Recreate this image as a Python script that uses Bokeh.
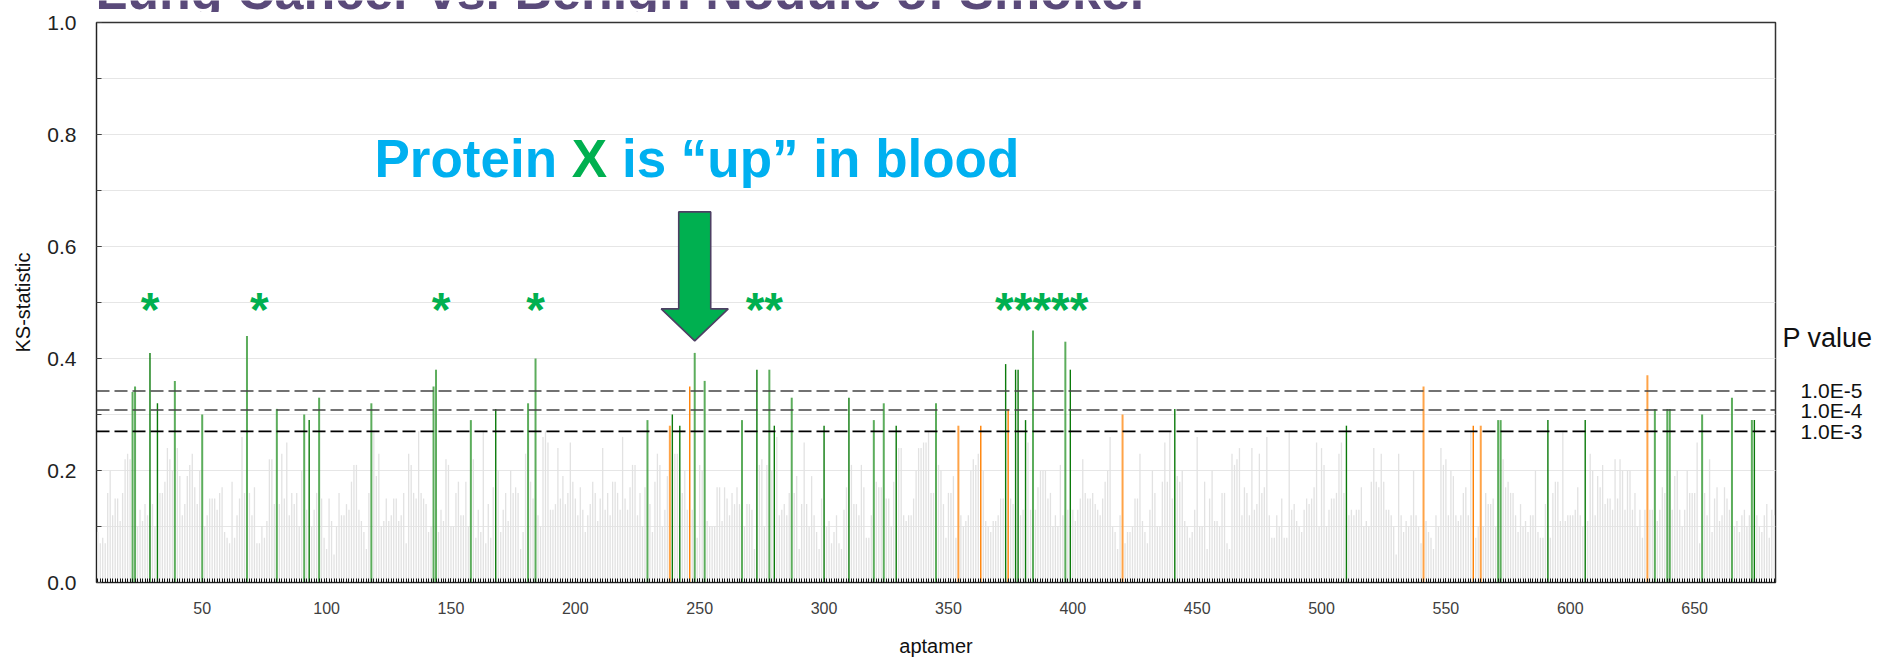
from bokeh.plotting import figure
from bokeh.layouts import column, row
from bokeh.models import Range1d, SingleIntervalTicker, PrintfTickFormatter, Span, Label
from bokeh.embed import file_html
from bokeh.resources import INLINE
from bokeh.core.properties import value

# ---------------- data ----------------
first_aptamer = 8
ks = [
    0.09, 0.07, 0.08, 0.07, 0.16, 0.20, 0.12, 0.15, 0.15, 0.11,
    0.16, 0.22, 0.23, 0.22, 0.34, 0.35, 0.10, 0.13, 0.11, 0.14,
    0.12, 0.41, 0.14, 0.10, 0.32, 0.16, 0.16, 0.18, 0.24, 0.22,
    0.20, 0.36, 0.24, 0.19, 0.12, 0.14, 0.19, 0.21, 0.23, 0.17,
    0.14, 0.20, 0.30, 0.10, 0.12, 0.15, 0.15, 0.15, 0.13, 0.16,
    0.17, 0.09, 0.08, 0.07, 0.18, 0.08, 0.12, 0.15, 0.26, 0.16,
    0.44, 0.16, 0.12, 0.17, 0.07, 0.07, 0.10, 0.08, 0.11, 0.22,
    0.22, 0.14, 0.31, 0.14, 0.23, 0.15, 0.25, 0.12, 0.16, 0.14,
    0.16, 0.10, 0.20, 0.30, 0.13, 0.29, 0.10, 0.13, 0.16, 0.33,
    0.15, 0.08, 0.06, 0.15, 0.11, 0.05, 0.10, 0.16, 0.12, 0.12,
    0.14, 0.13, 0.18, 0.21, 0.21, 0.13, 0.11, 0.09, 0.06, 0.16,
    0.32, 0.27, 0.19, 0.23, 0.10, 0.11, 0.15, 0.11, 0.12, 0.15,
    0.15, 0.11, 0.12, 0.16, 0.07, 0.23, 0.21, 0.16, 0.15, 0.27,
    0.16, 0.15, 0.14, 0.09, 0.10, 0.35, 0.38, 0.09, 0.13, 0.11,
    0.22, 0.21, 0.10, 0.10, 0.16, 0.18, 0.12, 0.12, 0.18, 0.10,
    0.29, 0.22, 0.08, 0.13, 0.09, 0.27, 0.07, 0.14, 0.08, 0.17,
    0.31, 0.20, 0.09, 0.13, 0.16, 0.11, 0.20, 0.16, 0.17, 0.16,
    0.06, 0.09, 0.23, 0.32, 0.18, 0.15, 0.40, 0.12, 0.10, 0.26,
    0.27, 0.25, 0.13, 0.13, 0.14, 0.24, 0.15, 0.19, 0.14, 0.16,
    0.25, 0.18, 0.15, 0.12, 0.17, 0.13, 0.09, 0.12, 0.14, 0.18,
    0.16, 0.11, 0.15, 0.24, 0.13, 0.16, 0.12, 0.18, 0.18, 0.16,
    0.13, 0.26, 0.15, 0.13, 0.17, 0.21, 0.21, 0.12, 0.16, 0.10,
    0.17, 0.29, 0.14, 0.09, 0.18, 0.23, 0.21, 0.10, 0.13, 0.19,
    0.28, 0.30, 0.23, 0.23, 0.28, 0.16, 0.20, 0.13, 0.35, 0.13,
    0.41, 0.08, 0.21, 0.20, 0.36, 0.11, 0.10, 0.10, 0.10, 0.17,
    0.17, 0.11, 0.17, 0.15, 0.12, 0.16, 0.14, 0.17, 0.14, 0.29,
    0.10, 0.14, 0.14, 0.13, 0.06, 0.38, 0.21, 0.22, 0.10, 0.21,
    0.38, 0.20, 0.28, 0.26, 0.12, 0.13, 0.14, 0.12, 0.16, 0.33,
    0.16, 0.19, 0.06, 0.14, 0.25, 0.14, 0.10, 0.19, 0.12, 0.09,
    0.06, 0.15, 0.28, 0.10, 0.11, 0.07, 0.09, 0.12, 0.07, 0.06,
    0.13, 0.17, 0.33, 0.21, 0.14, 0.14, 0.12, 0.21, 0.17, 0.08,
    0.08, 0.12, 0.29, 0.18, 0.17, 0.17, 0.32, 0.15, 0.15, 0.10,
    0.18, 0.28, 0.24, 0.24, 0.12, 0.11, 0.12, 0.12, 0.15, 0.20,
    0.24, 0.24, 0.25, 0.25, 0.27, 0.16, 0.16, 0.32, 0.21, 0.20,
    0.14, 0.08, 0.16, 0.16, 0.19, 0.08, 0.28, 0.12, 0.10, 0.11,
    0.12, 0.20, 0.22, 0.21, 0.23, 0.28, 0.20, 0.11, 0.10, 0.09,
    0.11, 0.11, 0.12, 0.15, 0.15, 0.39, 0.31, 0.15, 0.14, 0.38,
    0.38, 0.12, 0.13, 0.29, 0.25, 0.13, 0.45, 0.13, 0.17, 0.20,
    0.20, 0.20, 0.15, 0.16, 0.10, 0.12, 0.10, 0.21, 0.12, 0.43,
    0.13, 0.38, 0.13, 0.11, 0.13, 0.15, 0.22, 0.16, 0.15, 0.15,
    0.16, 0.14, 0.13, 0.12, 0.15, 0.18, 0.20, 0.26, 0.10, 0.09,
    0.06, 0.12, 0.30, 0.07, 0.09, 0.09, 0.10, 0.15, 0.15, 0.23,
    0.11, 0.09, 0.07, 0.13, 0.20, 0.16, 0.10, 0.10, 0.18, 0.25,
    0.18, 0.27, 0.15, 0.31, 0.19, 0.18, 0.20, 0.11, 0.10, 0.08,
    0.09, 0.13, 0.26, 0.10, 0.10, 0.18, 0.06, 0.15, 0.20, 0.11,
    0.11, 0.10, 0.16, 0.16, 0.07, 0.06, 0.23, 0.21, 0.22, 0.24,
    0.12, 0.17, 0.16, 0.12, 0.24, 0.13, 0.14, 0.23, 0.16, 0.17,
    0.26, 0.12, 0.08, 0.08, 0.12, 0.10, 0.15, 0.08, 0.08, 0.27,
    0.13, 0.14, 0.11, 0.10, 0.09, 0.13, 0.15, 0.14, 0.15, 0.17,
    0.25, 0.10, 0.24, 0.21, 0.10, 0.13, 0.15, 0.15, 0.16, 0.23,
    0.25, 0.16, 0.28, 0.12, 0.13, 0.12, 0.13, 0.13, 0.17, 0.10,
    0.11, 0.10, 0.18, 0.24, 0.18, 0.17, 0.23, 0.18, 0.13, 0.13,
    0.12, 0.10, 0.05, 0.23, 0.12, 0.09, 0.11, 0.10, 0.12, 0.20,
    0.12, 0.10, 0.07, 0.35, 0.11, 0.09, 0.08, 0.06, 0.12, 0.10,
    0.24, 0.21, 0.22, 0.12, 0.20, 0.19, 0.12, 0.11, 0.12, 0.16,
    0.17, 0.12, 0.27, 0.28, 0.08, 0.10, 0.28, 0.10, 0.16, 0.14,
    0.14, 0.15, 0.10, 0.29, 0.29, 0.22, 0.17, 0.18, 0.16, 0.16,
    0.12, 0.09, 0.14, 0.10, 0.11, 0.09, 0.12, 0.12, 0.20, 0.09,
    0.08, 0.08, 0.14, 0.29, 0.08, 0.16, 0.18, 0.18, 0.11, 0.27,
    0.11, 0.12, 0.12, 0.12, 0.13, 0.17, 0.12, 0.10, 0.29, 0.11,
    0.23, 0.20, 0.12, 0.19, 0.17, 0.21, 0.14, 0.15, 0.15, 0.13,
    0.22, 0.15, 0.22, 0.20, 0.13, 0.20, 0.20, 0.13, 0.16, 0.10,
    0.13, 0.08, 0.13, 0.37, 0.13, 0.13, 0.31, 0.11, 0.13, 0.17,
    0.16, 0.31, 0.31, 0.13, 0.19, 0.20, 0.13, 0.10, 0.13, 0.20,
    0.16, 0.16, 0.16, 0.25, 0.07, 0.30, 0.16, 0.12, 0.22, 0.09,
    0.15, 0.17, 0.11, 0.12, 0.17, 0.15, 0.13, 0.33, 0.10, 0.11,
    0.09, 0.12, 0.13, 0.10, 0.12, 0.29, 0.29, 0.12, 0.10, 0.09,
    0.12, 0.14, 0.08, 0.13, 0.12,
]
aptamer = list(range(first_aptamer, first_aptamer + len(ks)))

green_light_ids = [22, 23, 39, 50, 68, 80, 91, 97, 118, 143, 144, 158, 181, 184,
                   229, 248, 252, 267, 278, 287, 320, 324, 345, 384, 397, 571,
                   572, 634, 639, 640, 653, 665, 673]
green_dark_ids = [29, 32, 93, 168, 239, 242, 273, 280, 300, 310, 329, 373, 377,
                  378, 381, 399, 441, 510, 591, 606, 674]
orange_light_ids = [238, 354, 420, 541, 564, 631]
orange_dark_ids = [246, 363, 374, 561]

p_thresholds = [0.342, 0.308, 0.270]
p_labels = ["1.0E-5", "1.0E-4", "1.0E-3"]
p_colors = ["#444444", "#444444", "#000000"]

star_text = ["*", "*", "*", "*", "**", "*****"]
star_pos = [29, 73, 146, 184, 276, 387.5]
protein_x_aptamer = 248

title_text = "Lung Cancer vs. Benign Nodule of Smoker"
headline = ["Protein", "X", "is \u201cup\u201d in blood"]

# ---------------- layout (page pixels) ----------------
PAGE_W = 1878
STRIP_H = 12            # visible strip of the slide title
MAIN_W, MAIN_H = 1777, 648
FL, FT, FW, FH = 96, 10, 1679, 560
SIDE_W = PAGE_W - MAIN_W
X0, X1 = first_aptamer - 0.5, first_aptamer + len(ks) - 0.5
PXX = (X1 - X0) / FW     # data units per pixel, x
PXY = 1.0 / FH           # data units per pixel, y
FONT = "Liberation Sans"
MID = 0.3465             # baseline offset below a "middle" anchor, in em


def dx(page_x):
    return X0 + (page_x - FL) * PXX


def dy_base(page_y_baseline, size):
    # data y of a "middle" anchor whose text baseline sits at page_y_baseline
    return (582 - (page_y_baseline - MID * size)) * PXY


# ---------------- title strip ----------------
strip = figure(width=PAGE_W, height=STRIP_H, output_backend="svg", toolbar_location=None,
               x_range=Range1d(0, PAGE_W), y_range=Range1d(STRIP_H, 0),
               x_axis_location=None, y_axis_location=None, min_border=0)
strip.outline_line_color = None
strip.grid.visible = False
strip.text(x=[95], y=[9 - MID * 52], text=[title_text], text_font=value(FONT),
           text_font_size="52px", text_font_style="bold", text_color="#5a4a7a",
           text_align="left", text_baseline="middle")

# ---------------- main plot ----------------
p = figure(width=MAIN_W, height=MAIN_H, output_backend="svg", toolbar_location=None,
           x_range=Range1d(X0, X1), y_range=Range1d(0, 1),
           min_border_left=FL, min_border_right=MAIN_W - FL - FW,
           min_border_top=FT, min_border_bottom=MAIN_H - FT - FH)
p.outline_line_color = "#333333"
p.outline_line_width = 1.5

xt = SingleIntervalTicker(interval=50, num_minor_ticks=50)
yt = SingleIntervalTicker(interval=0.2, num_minor_ticks=2)
p.xaxis.ticker = xt
p.yaxis.ticker = yt
p.ygrid.ticker = yt
p.xgrid.visible = False
p.ygrid.grid_line_color = "#e6e6e6"
p.ygrid.minor_grid_line_color = "#e6e6e6"
p.yaxis.formatter = PrintfTickFormatter(format="%.1f")

for ax in (p.xaxis, p.yaxis):
    ax.axis_line_color = "#222222"
    ax.major_tick_out = 0
    ax.minor_tick_out = 0
    ax.major_label_text_font = FONT
    ax.axis_label_text_font = FONT
    ax.axis_label_text_font_style = "normal"
    ax.axis_label_text_color = "#111111"
    ax.axis_label_text_font_size = "20px"

p.xaxis.major_tick_in = 4
p.xaxis.minor_tick_in = 4
p.xaxis.major_tick_line_color = "#111111"
p.xaxis.minor_tick_line_color = "#111111"
p.xaxis.major_label_text_font_size = "16px"
p.xaxis.major_label_text_color = "#404040"
p.xaxis.major_label_standoff = 19
p.xaxis.axis_label = "aptamer"
p.xaxis.axis_label_standoff = 18

p.yaxis.major_tick_in = 5
p.yaxis.minor_tick_in = 5
p.yaxis.major_tick_line_color = "#444444"
p.yaxis.minor_tick_line_color = "#444444"
p.yaxis.major_label_text_font_size = "21px"
p.yaxis.major_label_text_color = "#222222"
p.yaxis.major_label_standoff = 20
p.yaxis.axis_label = "KS-statistic"
p.yaxis.axis_label_standoff = 10

# bars
hl = set(green_light_ids + green_dark_ids + orange_light_ids + orange_dark_ids)
gx = [a for a in aptamer if a not in hl]
gy = [ks[a - first_aptamer] for a in gx]
p.segment(x0=gx, y0=[0] * len(gx), x1=gx, y1=gy, line_color="#e2e2e2", line_width=1.3)


def draw(ids, color, width, alpha=1.0):
    ys = [ks[a - first_aptamer] for a in ids]
    p.segment(x0=ids, y0=[0] * len(ids), x1=ids, y1=ys, line_color=color,
              line_width=width, line_alpha=alpha)


draw(green_light_ids, "#3f9f3f", 2.0, 0.85)
draw(green_dark_ids, "#0b7a0b", 1.4)
draw(orange_light_ids, "#ffa347", 2.0)
draw(orange_dark_ids, "#ff7f00", 1.4)

for t, c in zip(p_thresholds, p_colors):
    p.add_layout(Span(location=t, dimension="width", line_color=c,
                      line_width=1.7, line_dash="13 5"))

# stars
p.text(x=star_pos, y=[0.487] * len(star_pos), text=star_text,
       text_font=value(FONT), text_font_size="48px", text_font_style="bold",
       text_color="#00B050", text_align="center", text_baseline="middle")

# arrow pointing at protein X
bar_top = ks[protein_x_aptamer - first_aptamer]
cx = protein_x_aptamer
tip = bar_top + 12 * PXY
base = tip + 32 * PXY
top = base + 97 * PXY
hh, sh = 33.5 * PXX, 16 * PXX
p.patch(x=[cx, cx - hh, cx - sh, cx - sh, cx + sh, cx + sh, cx + hh],
        y=[tip, base, base, top, top, base, base],
        fill_color="#00B050", line_color="#4d3f63", line_width=1.6)

# headline (three pieces so "X" can be green)
HS = 53
starts_em = [0.0, 3.723, 3.723 + 0.667 + 0.278]
cols = ["#00B0F0", "#00B050", "#00B0F0"]
hy = dy_base(176, HS)
for txt, em, col in zip(headline, starts_em, cols):
    p.add_layout(Label(x=dx(374 + em * HS), y=hy, text=txt, text_font=FONT,
                       text_font_size=f"{HS}px", text_font_style="bold",
                       text_color=col, text_baseline="middle", text_align="left"))

# ---------------- right side: P values ----------------
side = figure(width=SIDE_W, height=MAIN_H, output_backend="svg", toolbar_location=None,
              x_range=Range1d(0, SIDE_W), y_range=p.y_range,
              x_axis_location=None, y_axis_location=None,
              min_border_left=0, min_border_right=0,
              min_border_top=FT, min_border_bottom=MAIN_H - FT - FH)
side.outline_line_color = None
side.grid.visible = False
side.text(x=[5], y=[0.436], text=["P value"], text_font=value(FONT),
          text_font_size="27px", text_color="#111111", text_align="left",
          text_baseline="middle")
side.text(x=[23] * len(p_labels), y=p_thresholds, text=p_labels, text_font=value(FONT),
          text_font_size="21px", text_color="#111111", text_align="left",
          text_baseline="middle")

layout = column(strip, row(p, side))
open("out.html", "w").write(file_html(layout, INLINE))
